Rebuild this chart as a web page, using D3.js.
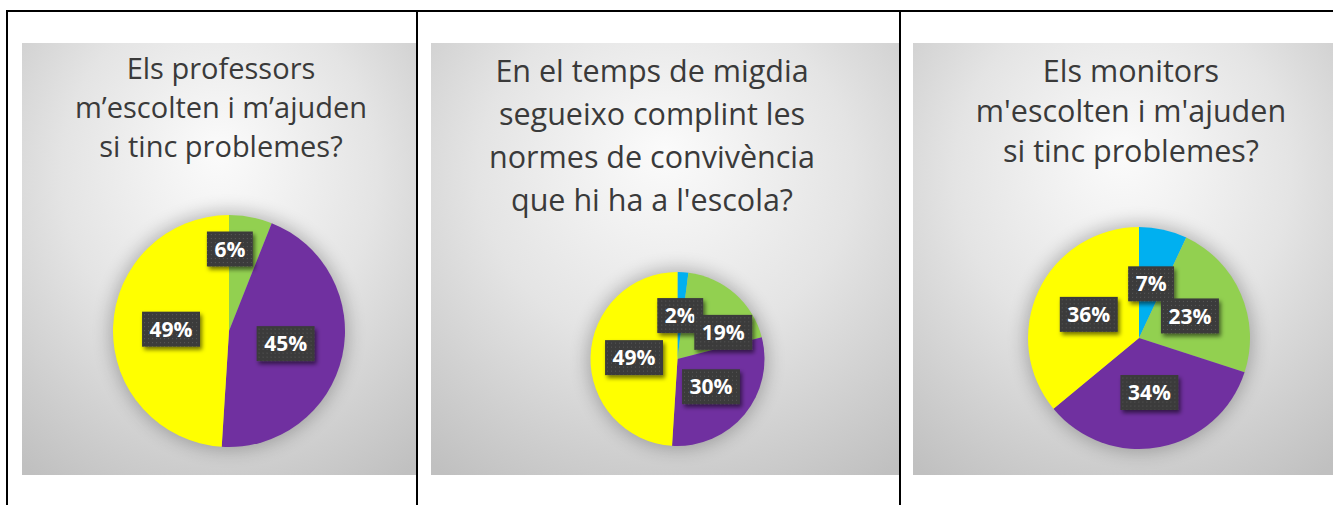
<!DOCTYPE html>
<html>
<head>
<meta charset="utf-8">
<script src="https://cdn.jsdelivr.net/npm/d3@7"></script>
<style>
  body { margin: 0; background: #fff; }
  svg { display: block; }
</style>
</head>
<body>
<div id="chart"></div>
<script>
// Answer categories (same order in all three pies, clockwise from 12 o'clock)
const categories = ["cat1", "cat2", "cat3", "cat4"];

// Percentages
const professorsValues = [0, 6, 45, 49];
const migdiaValues = [2, 19, 30, 49];
const monitorsValues = [7, 23, 34, 36];

// Titles, line by line
const professorsTitle = ["Els professors", "m\u2019escolten i m\u2019ajuden", "si tinc problemes?"];
const migdiaTitle = ["En el temps de migdia", "segueixo complint les", "normes de conviv\u00e8ncia", "que hi ha a l'escola?"];
const monitorsTitle = ["Els monitors", "m'escolten i m'ajuden", "si tinc problemes?"];

// slice colours
const sliceColors = ["#00b0f0", "#92d050", "#7030a0", "#ffff00"];

// layout of each panel
const panels = [
  { values: professorsValues, title: professorsTitle, x0: 22, x1: 416, titleX: 221, titleY: 79, lineH: 39, fontSize: 29,
    cx: 229, cy: 331, r: 116, nudge: { 1: [-10, -25] } },
  { values: migdiaValues, title: migdiaTitle, x0: 431, x1: 899, titleX: 652, titleY: 82, lineH: 43, fontSize: 30.5,
    cx: 677.5, cy: 359, r: 87, nudge: { 1: [17, 6] } },
  { values: monitorsValues, title: monitorsTitle, x0: 913, x1: 1333, titleX: 1131, titleY: 82, lineH: 40, fontSize: 30.5,
    cx: 1139, cy: 338, r: 111, nudge: {} }
];

const width = 1333, height = 505;
const panelTop = 43, panelBottom = 475;

const svg = d3.select("#chart").append("svg")
  .attr("width", width)
  .attr("height", height);

const defs = svg.append("defs");

// background gradient of the panels
const grad = defs.append("radialGradient")
  .attr("id", "bg")
  .attr("cx", "50%").attr("cy", "35%").attr("r", "80%")
  .attr("fx", "50%").attr("fy", "25%");
grad.append("stop").attr("offset", "0%").attr("stop-color", "#fbfbfb");
grad.append("stop").attr("offset", "50%").attr("stop-color", "#e4e4e4");
grad.append("stop").attr("offset", "100%").attr("stop-color", "#c0c0c0");

// soft halo around the pies
const halo = defs.append("filter").attr("id", "halo")
  .attr("x", "-50%").attr("y", "-50%").attr("width", "200%").attr("height", "200%");
halo.append("feGaussianBlur").attr("stdDeviation", 9);

// label box shadow
const boxShadow = defs.append("filter").attr("id", "boxShadow")
  .attr("x", "-30%").attr("y", "-30%").attr("width", "170%").attr("height", "170%");
boxShadow.append("feDropShadow")
  .attr("dx", 2).attr("dy", 3).attr("stdDeviation", 2)
  .attr("flood-color", "#000").attr("flood-opacity", 0.55);

// dotted texture of the label boxes
const pat = defs.append("pattern").attr("id", "dots")
  .attr("width", 4).attr("height", 4).attr("patternUnits", "userSpaceOnUse");
pat.append("rect").attr("width", 4).attr("height", 4).attr("fill", "#3b3b3b");
pat.append("rect").attr("x", 1).attr("y", 1).attr("width", 1).attr("height", 1).attr("fill", "#585858");

// panels
panels.forEach(p => {
  const g = svg.append("g");

  g.append("rect")
    .attr("x", p.x0).attr("y", panelTop)
    .attr("width", p.x1 - p.x0).attr("height", panelBottom - panelTop)
    .attr("fill", "url(#bg)");

  // title
  const title = g.append("text")
    .attr("text-anchor", "middle")
    .style("font-family", "'Open Sans', sans-serif")
    .style("font-size", p.fontSize + "px")
    .style("fill", "#3a3a3a");
  p.title.forEach((line, i) => {
    title.append("tspan")
      .attr("x", p.titleX)
      .attr("y", p.titleY + i * p.lineH)
      .text(line);
  });

  // pie
  const pie = d3.pie().sort(null).value(d => d.value);
  const arc = d3.arc().innerRadius(0).outerRadius(p.r);
  const arcs = pie(p.values.map((v, i) => ({ value: v, cat: categories[i], i: i })));

  const pg = g.append("g").attr("transform", `translate(${p.cx},${p.cy})`);

  pg.append("circle")
    .attr("r", p.r + 3)
    .attr("fill", "#000")
    .attr("opacity", 0.25)
    .attr("filter", "url(#halo)");

  pg.selectAll("path.slice")
    .data(arcs.filter(d => d.data.value > 0))
    .enter()
    .append("path")
    .attr("class", "slice")
    .attr("d", arc)
    .attr("fill", d => sliceColors[d.data.i]);

  // labels
  const labels = pg.selectAll("g.lbl")
    .data(arcs.filter(d => d.data.value > 0))
    .enter()
    .append("g")
    .attr("class", "lbl")
    .attr("transform", d => {
      const c = arc.centroid(d);
      const n = p.nudge[d.data.i] || [0, 0];
      return `translate(${c[0] + n[0]},${c[1] + n[1]})`;
    });

  labels.append("rect")
    .attr("fill", "url(#dots)")
    .attr("filter", "url(#boxShadow)");

  labels.append("text")
    .attr("text-anchor", "middle")
    .attr("dy", "0.36em")
    .style("font-family", "'Open Sans', sans-serif")
    .style("font-weight", "bold")
    .style("font-size", "21px")
    .style("fill", "#fff")
    .text(d => d.data.value + "%");

  labels.each(function () {
    const t = d3.select(this).select("text").node();
    const w = t.getComputedTextLength() + 15;
    const h = 35;
    d3.select(this).select("rect")
      .attr("x", -w / 2).attr("y", -h / 2)
      .attr("width", w).attr("height", h);
  });
});

// table borders
const borders = svg.append("g").attr("stroke", "#000").attr("stroke-width", 2);
borders.append("line").attr("x1", 6).attr("x2", width).attr("y1", 11).attr("y2", 11);
borders.append("line").attr("x1", 7).attr("x2", 7).attr("y1", 10).attr("y2", height);
borders.append("line").attr("x1", 417).attr("x2", 417).attr("y1", 10).attr("y2", height);
borders.append("line").attr("x1", 900).attr("x2", 900).attr("y1", 10).attr("y2", height);
</script>
</body>
</html>
